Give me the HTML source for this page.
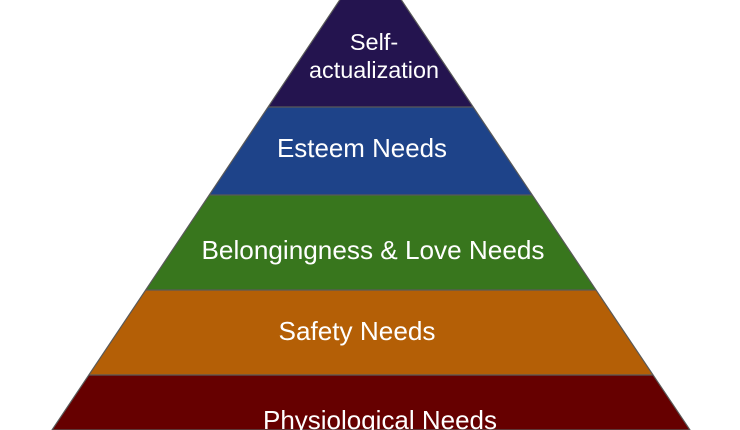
<!DOCTYPE html>
<html><head><style>html,body{margin:0;padding:0;background:#fff;width:740px;height:430px;overflow:hidden}</style></head>
<body>
<svg width="740" height="430" viewBox="0 0 740 430" xmlns="http://www.w3.org/2000/svg">
<defs><clipPath id="c"><polygon points="370.5,-46 52,430 690,430"/></clipPath></defs>
<g clip-path="url(#c)">
<rect x="0" y="-50" width="740" height="157" fill="#24144f"/>
<rect x="0" y="107" width="740" height="88" fill="#1e4389"/>
<rect x="0" y="195" width="740" height="95" fill="#38761d"/>
<rect x="0" y="290" width="740" height="85" fill="#b45f06"/>
<rect x="0" y="375" width="740" height="60" fill="#660000"/>
<g stroke="#595959" stroke-width="1.2">
<line x1="0" y1="107" x2="740" y2="107"/><line x1="0" y1="195" x2="740" y2="195"/>
<line x1="0" y1="290" x2="740" y2="290"/><line x1="0" y1="375" x2="740" y2="375"/>
</g>
</g>
<polygon points="370.5,-46 52,430 690,430" fill="none" stroke="#595959" stroke-width="1.2"/>
<g fill="#fff" font-family="Liberation Sans, Arial, sans-serif" font-size="23.5" text-anchor="middle">
<text x="374" y="50">Self-</text>
<text x="374" y="78" textLength="130" lengthAdjust="spacingAndGlyphs">actualization</text>
<text x="362" y="157" font-size="26" textLength="170" lengthAdjust="spacingAndGlyphs">Esteem Needs</text>
<text x="373" y="259" font-size="26" textLength="343" lengthAdjust="spacingAndGlyphs">Belongingness &amp; Love Needs</text>
<text x="357" y="340" font-size="26" textLength="157" lengthAdjust="spacingAndGlyphs">Safety Needs</text>
<text x="380" y="429" font-size="26" textLength="234" lengthAdjust="spacingAndGlyphs">Physiological Needs</text>
</g>
</svg>
</body></html>
